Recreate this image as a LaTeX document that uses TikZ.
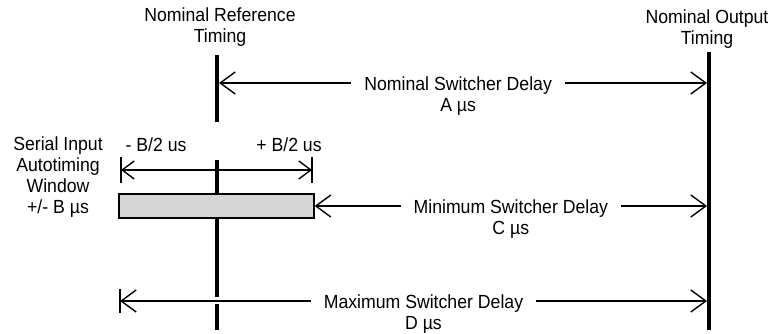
\documentclass[tikz,border=0pt]{standalone}
\usepackage{fontspec}
\setmainfont{Liberation Sans}[FakeStretch=0.93]
\usetikzlibrary{arrows.meta, positioning}
\definecolor{windowgray}{RGB}{214, 214, 214}

\begin{document}
\begin{tikzpicture}[x=1pt, y=-1pt,
        lbl/.style={font=\fontsize{19}{21}\selectfont, align=center, inner sep=0pt},
        midlbl/.style={lbl, fill=white, inner xsep=13pt, anchor=north, yshift=7pt},
        barb/.tip={Straight Barb[length=15pt, width=22pt]},
        smallbarb/.tip={Straight Barb[length=12pt, width=18pt]},
        timeline/.style={line width=3.5pt},
        dimline/.style={line width=1.4pt, barb-barb},
        winbox/.style={draw, line width=1.3pt, fill=windowgray, minimum width=195pt, minimum height=24pt, inner sep=0pt}]
        
        \useasboundingbox (0,0) rectangle (773,334);
        
        \node[lbl, anchor=north] (reftitle) at (220,8) {Nominal Reference\\Timing};
        \node[lbl, anchor=north] (outtitle) at (707,10) {Nominal Output\\Timing};
        \node[lbl, anchor=north] (serial) at (58,137) {Serial Input\\Autotiming\\Window\\+/- B µs};
        \node[lbl, anchor=north] (minushalf) at (156,138) {- B/2 us};
        \node[lbl, anchor=north] (plushalf) at (289,138) {+ B/2 us};
        
        \coordinate (reftop) at (217,55);
        \coordinate (refbot) at (217,330);
        \coordinate (outtop) at (709,52);
        \coordinate (outbot) at (709,330);
        
        \draw[timeline] (reftop) -- (217,122) (217,160) -- (217,297) (217,304) -- (refbot);
        \draw[timeline] (outtop) -- (outbot);
        
        \node[winbox] (window) at (216.5,206) {};
        
        \coordinate (nomL) at (219,83);
        \coordinate (nomR) at (707,83);
        \draw[dimline] (nomL) -- node[midlbl, pos=0.49] (nomlbl) {Nominal Switcher Delay\\A µs} (nomR);
        
        \coordinate (minR) at (707,206);
        \draw[dimline] (window.east) -- node[midlbl, pos=0.5] (minlbl) {Minimum Switcher Delay\\C µs} (minR);
        
        \coordinate (maxL) at (120,301);
        \coordinate (maxR) at (707,301);
        \draw[dimline] (maxL) -- node[midlbl, pos=0.517] (maxlbl) {Maximum Switcher Delay\\D µs} (maxR);
        \draw[line width=1.4pt] (120,289) -- (120,313);
        \draw[line width=2.6pt] (217,301) -- (235,301);
        
        \coordinate (winL) at (121,170);
        \coordinate (winR) at (312,170);
        \draw[line width=1.4pt, smallbarb-smallbarb] (winL) -- (winR);
        \draw[line width=1.4pt] (121,157) -- (121,183) (312,157) -- (312,183);
        
    \end{tikzpicture}
\end{document}
